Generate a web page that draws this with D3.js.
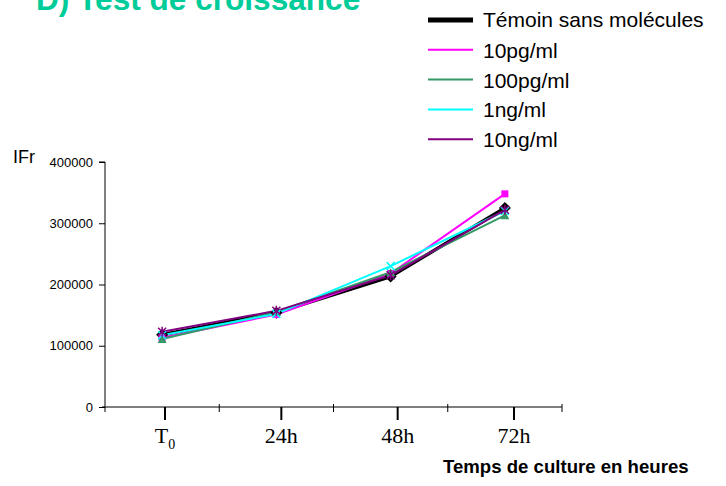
<!DOCTYPE html>
<html>
<head>
<meta charset="utf-8">
<script src="https://cdn.jsdelivr.net/npm/d3@7"></script>
<style>
  html, body { margin: 0; padding: 0; background: #fff; }
  svg { display: block; }
</style>
</head>
<body>
<svg id="chart" width="726" height="486"></svg>
<script>
// Growth test: fluorescence intensity over culture time
const categories = ["T0", "24h", "48h", "72h"];
const yTicks = [0, 100000, 200000, 300000, 400000];

const seriesNames = ["Témoin sans molécules", "10pg/ml", "100pg/ml", "1ng/ml", "10ng/ml"];
const temoin   = [118000, 154000, 213000, 325000];
const pg10     = [113000, 151000, 218000, 348000];
const pg100    = [111000, 155000, 220000, 313000];
const ng1      = [117000, 152000, 230000, 320000];
const ng10     = [123000, 157000, 215000, 322000];

const colors = ["#000000", "#ff00ff", "#339966", "#00ffff", "#800080"];
const markers = ["diamond", "square", "triangle", "cross", "star"];

const series = seriesNames.map((name, i) => ({
  name, color: colors[i], marker: markers[i],
  values: [temoin, pg10, pg100, ng1, ng10][i]
}));

const svg = d3.select("#chart");

const x = d3.scaleBand().domain(categories).range([105, 562]);
const y = d3.scaleLinear().domain([0, 400000]).range([407, 162]);
// outer time labels sit on their own evenly spread axis
const xLab = d3.scalePoint().domain(categories).range([165, 514]);

// title (runs off the top edge of the panel)
svg.append("text")
  .attr("x", 36).attr("y", 10)
  .attr("font-family", "Liberation Sans, Arial, sans-serif")
  .attr("font-weight", "bold")
  .attr("font-size", 31.6)
  .attr("fill", "#00cc99")
  .text("D) Test de croissance");

// y axis
const yAxis = svg.append("g")
  .attr("transform", "translate(105,0)")
  .call(d3.axisLeft(y).tickValues(yTicks).tickSize(6).tickPadding(6).tickFormat(d3.format("d")));
yAxis.selectAll("path, line").attr("stroke", "#000").attr("stroke-width", 1);
yAxis.select(".domain").attr("d", `M-6,${y(400000)}H0V${y(0) + 5}`);
yAxis.selectAll("text")
  .attr("font-family", "Liberation Sans, Arial, sans-serif")
  .attr("font-size", 13).attr("fill", "#000");

svg.append("text")
  .attr("x", 13).attr("y", 163)
  .attr("font-family", "Liberation Sans, Arial, sans-serif")
  .attr("font-size", 18)
  .attr("fill", "#000")
  .text("IFr");

// x axis line with boundary ticks
svg.append("line")
  .attr("x1", 102).attr("x2", x.range()[1])
  .attr("y1", y(0)).attr("y2", y(0))
  .attr("stroke", "#000").attr("stroke-width", 1);
const bounds = categories.map(c => x(c)).concat([x.range()[1]]);
svg.selectAll(".minor").data(bounds.slice(1)).join("line")
  .attr("x1", d => d).attr("x2", d => d)
  .attr("y1", y(0) - 3).attr("y2", y(0) + 5)
  .attr("stroke", "#000").attr("stroke-width", 1);

// time labels with their ticks
const labAxis = svg.append("g");
labAxis.selectAll("line").data(categories).join("line")
  .attr("x1", d => xLab(d)).attr("x2", d => xLab(d))
  .attr("y1", y(0)).attr("y2", y(0) + 13)
  .attr("stroke", "#000").attr("stroke-width", 2);
labAxis.selectAll("text").data(categories).join("text")
  .attr("x", d => xLab(d)).attr("y", 443)
  .attr("text-anchor", "middle")
  .attr("font-family", "Liberation Serif, Times New Roman, serif")
  .attr("font-size", 22)
  .attr("fill", "#000")
  .each(function(d) {
    const t = d3.select(this);
    if (d === "T0") {
      t.append("tspan").text("T");
      t.append("tspan").attr("font-size", 14).attr("dy", 6).text("0");
    } else {
      t.text(d);
    }
  });

svg.append("text")
  .attr("x", 443).attr("y", 473)
  .attr("font-family", "Liberation Sans, Arial, sans-serif")
  .attr("font-weight", "bold")
  .attr("font-size", 18.6)
  .attr("fill", "#000")
  .text("Temps de culture en heures");

// lines
const line = d3.line()
  .x((d, i) => x(categories[i]) + x.bandwidth() / 2)
  .y(d => y(d));

svg.selectAll(".series").data(series).join("path")
  .attr("class", "series")
  .attr("d", d => line(d.values))
  .attr("fill", "none")
  .attr("stroke", d => d.color)
  .attr("stroke-width", (d, i) => i === 0 ? 3.5 : 2)
  .attr("stroke-linejoin", "round");

// markers
function drawMarker(g, type, color) {
  if (type === "diamond") {
    g.append("path").attr("d", "M0,-6L6,0L0,6L-6,0Z").attr("fill", color);
  } else if (type === "square") {
    g.append("rect").attr("x", -3.5).attr("y", -3.5).attr("width", 7).attr("height", 7).attr("fill", color);
  } else if (type === "triangle") {
    g.append("path").attr("d", "M0,-4L4.5,4L-4.5,4Z").attr("fill", color);
  } else if (type === "cross") {
    g.append("path").attr("d", "M-4,-4L4,4M4,-4L-4,4").attr("stroke", color).attr("stroke-width", 1.5);
  } else if (type === "star") {
    g.append("path").attr("d", "M-4,-4L4,4M4,-4L-4,4M0,-5V5").attr("stroke", color).attr("stroke-width", 1.5);
  }
}
series.forEach(s => {
  s.values.forEach((v, i) => {
    const g = svg.append("g")
      .attr("transform", `translate(${x(categories[i]) + x.bandwidth() / 2},${y(v)})`);
    drawMarker(g, s.marker, s.color);
  });
});

// legend
const legend = svg.append("g");
series.forEach((s, i) => {
  const ly = 20 + i * 29.8;
  legend.append("line")
    .attr("x1", 428).attr("x2", 473).attr("y1", ly).attr("y2", ly)
    .attr("stroke", s.color).attr("stroke-width", i === 0 ? 5 : 2);
  legend.append("text")
    .attr("x", 483).attr("y", ly + (i === 0 ? 6.5 : 8))
    .attr("font-family", "Liberation Sans, Arial, sans-serif")
    .attr("font-size", 21)
    .attr("fill", "#000")
    .text(s.name);
});
</script>
</body>
</html>
